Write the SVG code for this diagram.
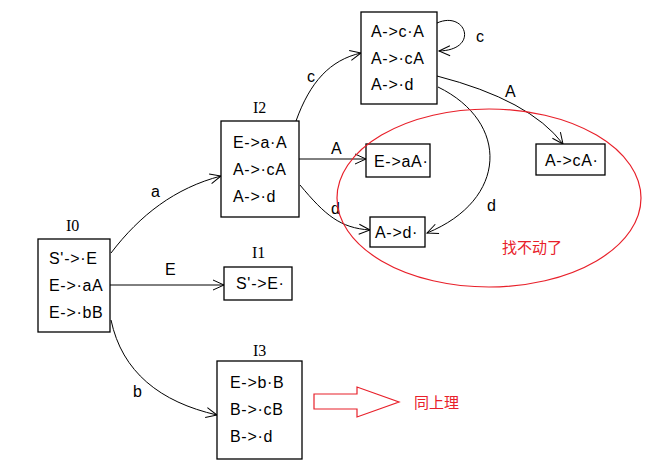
<svg xmlns="http://www.w3.org/2000/svg" width="655" height="466" viewBox="0 0 655 466">
<defs>
<style>
.box{fill:#fff;stroke:#000;stroke-width:1.3}
.t{font-family:"Liberation Sans",Arial,sans-serif;font-size:16px;letter-spacing:0.7px;fill:#000}
.lbl{font-family:"Liberation Sans",Arial,sans-serif;font-size:16px;fill:#000}
.id{font-family:"Liberation Serif","Times New Roman",serif;font-size:16px;fill:#000}
.e{fill:none;stroke:#000;stroke-width:1;marker-end:url(#arr)}
.cn{font-family:"Noto Sans CJK SC",sans-serif;font-size:15px;fill:#e8202a}
</style>
<marker id="arr" markerUnits="userSpaceOnUse" markerWidth="14" markerHeight="14" viewBox="-12 -7 14 14" refX="0" refY="0" orient="auto">
<path d="M-11,-5 L0,0 L-11,5" fill="none" stroke="#000" stroke-width="1"/>
</marker>
</defs>
<rect width="655" height="466" fill="#fff"/>

<g id="connectors">
<path class="e" d="M111,253 C140,215 175,188 221,176"/>
<path class="e" d="M110,285 L224,285"/>
<path class="e" d="M111,320 C122,372 160,402 217,415"/>
<path class="e" d="M296,121 C310,82 330,60 361,53"/>
<path class="e" d="M437,23 C466,10 480,50 439,51"/>
<path class="e" d="M299,159 L366,159"/>
<path class="e" d="M300,185 C325,215 340,228 370,230"/>
<path class="e" d="M437,76 Q530,100 563,144"/>
<path class="e" d="M438,87 C510,122 508,200 427,233"/>
<text class="lbl" x="151" y="197">a</text>
<text class="lbl" x="165" y="275">E</text>
<text class="lbl" x="133" y="397">b</text>
<text class="lbl" x="307" y="82">c</text>
<text class="lbl" x="476" y="42">c</text>
<text class="lbl" x="331" y="154">A</text>
<text class="lbl" x="331" y="214">d</text>
<text class="lbl" x="505" y="97">A</text>
<text class="lbl" x="487" y="211">d</text>
</g>

<g id="I0">
<text class="id" x="66" y="231">I0</text>
<rect class="box" x="38" y="239" width="72" height="93"/>
<text class="t" x="49" y="264">S'->·E</text>
<text class="t" x="49" y="291">E->·aA</text>
<text class="t" x="49" y="318">E->·bB</text>
</g>

<g id="I1">
<text class="id" x="252" y="258">I1</text>
<rect class="box" x="224" y="267" width="68" height="33"/>
<text class="t" x="236" y="289">S'->E·</text>
</g>

<g id="I2">
<text class="id" x="253" y="113">I2</text>
<rect class="box" x="221" y="121" width="78" height="96"/>
<text class="t" x="233" y="148">E->a·A</text>
<text class="t" x="233" y="175">A->·cA</text>
<text class="t" x="233" y="202">A->·d</text>
</g>

<g id="I3">
<text class="id" x="253" y="356">I3</text>
<rect class="box" x="217" y="361" width="85" height="98"/>
<text class="t" x="230" y="388">E->b·B</text>
<text class="t" x="230" y="415">B->·cB</text>
<text class="t" x="230" y="442">B->·d</text>
</g>

<g id="I4">
<rect class="box" x="361" y="12" width="76" height="92"/>
<text class="t" x="371" y="37">A->c·A</text>
<text class="t" x="371" y="64">A->·cA</text>
<text class="t" x="371" y="90">A->·d</text>
</g>

<g id="I5">
<rect class="box" x="366" y="144" width="64" height="33"/>
<text class="t" x="374" y="167">E->aA·</text>
</g>

<g id="I6">
<rect class="box" x="370" y="217" width="55" height="30"/>
<text class="t" x="375" y="238">A->d·</text>
</g>

<g id="I7">
<rect class="box" x="536" y="144" width="69" height="31"/>
<text class="t" x="545" y="166">A->cA·</text>
</g>

<g id="note1">
<ellipse cx="489" cy="198" rx="152" ry="89" fill="none" stroke="#e8202a" stroke-width="1.2"/>
<text class="cn" x="502" y="253">找不动了</text>
</g>

<g id="note2">
<path d="M314,394 L357,394 L357,387 L399,402 L357,417 L357,409 L314,409 Z" fill="none" stroke="#e8202a" stroke-width="1.2"/>
<text class="cn" x="414" y="408">同上理</text>
</g>
</svg>
